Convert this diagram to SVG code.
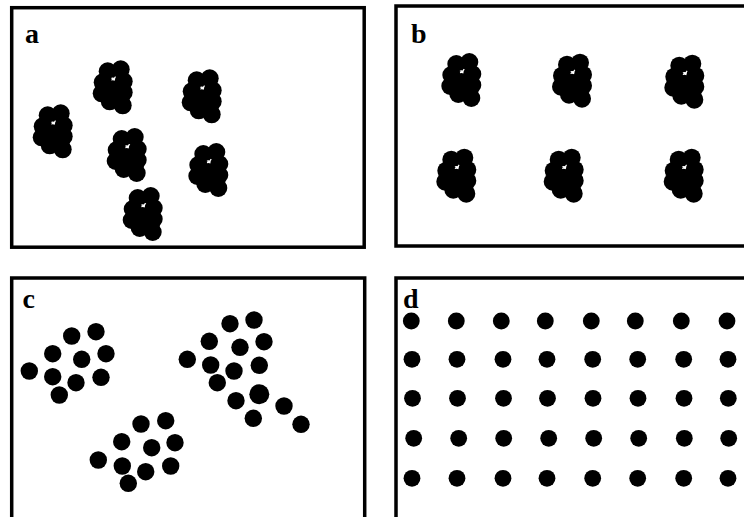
<svg xmlns="http://www.w3.org/2000/svg" xmlns:xlink="http://www.w3.org/1999/xlink" width="744" height="517" viewBox="0 0 744 517">
<style>
.frame{fill:none;stroke:#000;stroke-width:3.5}
.lbl{font-family:"Liberation Serif",serif;font-weight:bold;font-size:28px;fill:#000}
.dot{fill:#000}
</style>
<defs>
<g id="cl">
<circle cx="-5" cy="-7" r="9"/><circle cx="8" cy="-9" r="9"/><circle cx="11" cy="3" r="9"/><circle cx="-10" cy="4" r="9"/><circle cx="-11" cy="15" r="9"/><circle cx="0" cy="11" r="9"/><circle cx="11" cy="14" r="9"/><circle cx="-3" cy="23" r="9"/><circle cx="8" cy="22" r="9"/><circle cx="10" cy="27" r="9"/>
<ellipse cx="0" cy="0" rx="1.6" ry="0.8" fill="#fff"/>
</g>
<circle id="dc" r="8.7"/>
<circle id="dd" r="8.4"/>
</defs>
<rect width="744" height="517" fill="#fff"/>
<g id="panel-a">
<rect class="frame" x="11.7" y="7.7" width="352.5" height="239.5"/>
<text class="lbl" x="25" y="43">a</text>
<use xlink:href="#cl" x="52.7" y="122.3"/>
<use xlink:href="#cl" x="112.7" y="78.3"/>
<use xlink:href="#cl" x="201.7" y="87.3"/>
<use xlink:href="#cl" x="126.7" y="146"/>
<use xlink:href="#cl" x="208.3" y="161"/>
<use xlink:href="#cl" x="142.7" y="205"/>
</g>
<g id="panel-b">
<rect class="frame" x="396" y="6" width="360" height="240"/>
<text class="lbl" x="411" y="42.7">b</text>
<use xlink:href="#cl" x="461.3" y="71"/>
<use xlink:href="#cl" x="572" y="71.7"/>
<use xlink:href="#cl" x="684.3" y="72.7"/>
<use xlink:href="#cl" x="456.3" y="166.7"/>
<use xlink:href="#cl" x="563.7" y="166.7"/>
<use xlink:href="#cl" x="683.7" y="166.7"/>
</g>
<g id="panel-c">
<rect class="frame" x="11.7" y="278" width="353" height="250"/>
<text class="lbl" x="22.5" y="308">c</text>
<g class="dot">
<use xlink:href="#dc" x="29.3" y="371"/><use xlink:href="#dc" x="52.7" y="353.7"/><use xlink:href="#dc" x="71.7" y="336"/><use xlink:href="#dc" x="96" y="331.7"/><use xlink:href="#dc" x="81.7" y="359.3"/><use xlink:href="#dc" x="106" y="353.7"/><use xlink:href="#dc" x="52.7" y="376.7"/><use xlink:href="#dc" x="76" y="382.7"/><use xlink:href="#dc" x="101" y="377.3"/><use xlink:href="#dc" x="59.3" y="395"/>
<use xlink:href="#dc" x="187.3" y="359.3"/><use xlink:href="#dc" x="209.3" y="341.3"/><use xlink:href="#dc" x="230" y="323.7"/><use xlink:href="#dc" x="254" y="320"/><use xlink:href="#dc" x="240" y="347.3"/><use xlink:href="#dc" x="264" y="341.7"/><use xlink:href="#dc" x="210.7" y="365"/><use xlink:href="#dc" x="234" y="371"/><use xlink:href="#dc" x="259.3" y="365.3"/><use xlink:href="#dc" x="217.3" y="382.7"/><circle cx="259.3" cy="394.3" r="10"/><use xlink:href="#dc" x="236" y="400.7"/><use xlink:href="#dc" x="284" y="406"/><use xlink:href="#dc" x="253.3" y="418.3"/><use xlink:href="#dc" x="301" y="424.3"/>
<use xlink:href="#dc" x="98.3" y="460"/><use xlink:href="#dc" x="121.7" y="441.7"/><use xlink:href="#dc" x="141" y="424"/><use xlink:href="#dc" x="165.7" y="420.7"/><use xlink:href="#dc" x="151.7" y="447.7"/><use xlink:href="#dc" x="175" y="442.7"/><use xlink:href="#dc" x="122.3" y="466"/><use xlink:href="#dc" x="145.7" y="471.7"/><use xlink:href="#dc" x="170.7" y="466"/><use xlink:href="#dc" x="128.3" y="483.3"/>
</g>
</g>
<g id="panel-d">
<rect class="frame" x="396" y="278" width="360" height="250"/>
<text class="lbl" x="403" y="308">d</text>
<g class="dot">
<use xlink:href="#dd" x="411.3" y="321"/><use xlink:href="#dd" x="456.3" y="321"/><use xlink:href="#dd" x="501.3" y="321"/><use xlink:href="#dd" x="545.3" y="321"/><use xlink:href="#dd" x="591.3" y="321"/><use xlink:href="#dd" x="635.3" y="321"/><use xlink:href="#dd" x="681.3" y="321"/><use xlink:href="#dd" x="727" y="321"/>
<use xlink:href="#dd" x="412" y="359.3"/><use xlink:href="#dd" x="457" y="359.3"/><use xlink:href="#dd" x="503" y="359.3"/><use xlink:href="#dd" x="547" y="359.3"/><use xlink:href="#dd" x="592.7" y="359.3"/><use xlink:href="#dd" x="637.7" y="359.3"/><use xlink:href="#dd" x="683.7" y="359.3"/><use xlink:href="#dd" x="728" y="359.3"/>
<use xlink:href="#dd" x="412.5" y="398.3"/><use xlink:href="#dd" x="457.5" y="398.3"/><use xlink:href="#dd" x="503.5" y="398.3"/><use xlink:href="#dd" x="547.5" y="398.3"/><use xlink:href="#dd" x="593" y="398.3"/><use xlink:href="#dd" x="638" y="398.3"/><use xlink:href="#dd" x="684" y="398.3"/><use xlink:href="#dd" x="728.3" y="398.3"/>
<use xlink:href="#dd" x="413.7" y="438.3"/><use xlink:href="#dd" x="458.7" y="438.3"/><use xlink:href="#dd" x="503.7" y="438.3"/><use xlink:href="#dd" x="548.7" y="438.3"/><use xlink:href="#dd" x="593.7" y="438.3"/><use xlink:href="#dd" x="638.7" y="438.3"/><use xlink:href="#dd" x="684.3" y="438.3"/><use xlink:href="#dd" x="728.7" y="438.3"/>
<use xlink:href="#dd" x="412" y="478.3"/><use xlink:href="#dd" x="457" y="478.3"/><use xlink:href="#dd" x="503" y="478.3"/><use xlink:href="#dd" x="547" y="478.3"/><use xlink:href="#dd" x="592.7" y="478.3"/><use xlink:href="#dd" x="637.7" y="478.3"/><use xlink:href="#dd" x="683.7" y="478.3"/><use xlink:href="#dd" x="728" y="478.3"/>
</g>
</g>
</svg>
